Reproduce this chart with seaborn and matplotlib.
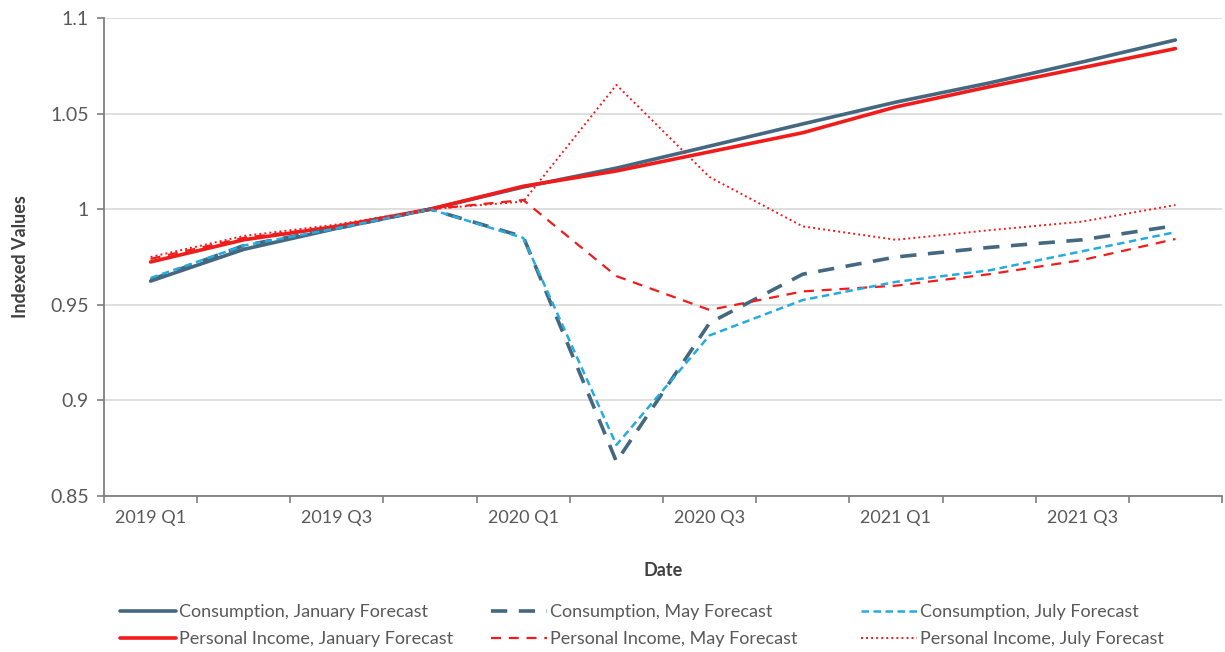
import matplotlib
matplotlib.use("Agg")
import matplotlib.pyplot as plt
import seaborn as sns
import pandas as pd
import numpy as np

quarters = ["2019 Q1", "2019 Q2", "2019 Q3", "2019 Q4",
            "2020 Q1", "2020 Q2", "2020 Q3", "2020 Q4",
            "2021 Q1", "2021 Q2", "2021 Q3", "2021 Q4"]

cons_jan = [0.9624, 0.979, 0.990, 1.000, 1.0116, 1.0215, 1.033, 1.0446, 1.056, 1.066, 1.077, 1.0885]
inc_jan = [0.9724, 0.984, 0.991, 1.000, 1.012, 1.020, 1.030, 1.040, 1.0535, 1.064, 1.074, 1.084]
cons_may = [0.963, 0.981, 0.990, 1.000, 0.9856, 0.868, 0.9405, 0.966, 0.975, 0.980, 0.984, 0.9914]
inc_may = [0.974, 0.985, 0.991, 1.000, 1.0048, 0.965, 0.9473, 0.957, 0.960, 0.966, 0.9734, 0.9844]
cons_jul = [0.964, 0.981, 0.990, 1.000, 0.985, 0.8767, 0.934, 0.9525, 0.962, 0.968, 0.978, 0.988]
inc_jul = [0.975, 0.986, 0.992, 1.000, 1.004, 1.065, 1.0168, 0.991, 0.984, 0.989, 0.9935, 1.0022]

sns.set_theme(style="white")
plt.rcParams["font.family"] = ["Lato", "DejaVu Sans"]

DARK = "#44687f"
RED = "#f21b1b"
BLUE = "#26abe0"

series = [
    ("Consumption, January Forecast", cons_jan, DARK, "-", 2.6),
    ("Personal Income, January Forecast", inc_jan, RED, "-", 2.6),
    ("Consumption, May Forecast", cons_may, DARK, (0, (4.5, 3.2)), 2.6),
    ("Personal Income, May Forecast", inc_may, RED, (0, (4.5, 3.5)), 1.6),
    ("Consumption, July Forecast", cons_jul, BLUE, (0, (3.0, 1.8)), 1.8),
    ("Personal Income, July Forecast", inc_jul, RED, (0, (1, 1.6)), 1.4),
]

fig = plt.figure(figsize=(12.25, 6.52), dpi=100)
ax = fig.add_axes([104 / 1225, 1 - 496 / 652, 1118 / 1225, 478 / 652])

x = np.arange(len(quarters))
for name, vals, color, ls, lw in series:
    df = pd.DataFrame({"Date": x, "Indexed Values": vals})
    sns.lineplot(data=df, x="Date", y="Indexed Values", ax=ax, color=color,
                 linestyle=ls, linewidth=lw, label=name, legend=False)

ax.set_xlim(-0.5, len(quarters) - 0.5)
ax.set_ylim(0.85, 1.1)
ax.set_yticks([0.85, 0.9, 0.95, 1.0, 1.05, 1.1])
ax.set_yticklabels(["0.85", "0.9", "0.95", "1", "1.05", "1.1"])
ax.set_xticks(x[::2])
ax.set_xticklabels(quarters[::2])
ax.set_xticks(np.arange(-0.5, len(quarters), 1.0), minor=True)

ax.yaxis.grid(True, color="#d9d9d9", linewidth=1.2)
ax.xaxis.grid(False)
ax.set_axisbelow(True)

for side in ["top", "right"]:
    ax.spines[side].set_visible(False)
for side in ["left", "bottom"]:
    ax.spines[side].set_color("#7f7f7f")
    ax.spines[side].set_linewidth(1.3)

ax.tick_params(axis="x", which="major", length=0, pad=10, labelsize=13, labelcolor="#595959")
ax.tick_params(axis="x", which="minor", bottom=True, length=5, width=1.2, color="#7f7f7f", direction="out")
ax.tick_params(axis="y", which="major", left=True, length=5, width=1.2, color="#7f7f7f",
               direction="out", labelsize=14, labelcolor="#595959", pad=6)

ax.set_xlabel("Date", fontsize=13, fontweight="bold", color="#404040", labelpad=26)
ax.set_ylabel("Indexed Values", fontsize=13, fontweight="bold", color="#404040")
ax.yaxis.set_label_coords(-0.067, 0.5)

# legend: three columns, each holding a Consumption / Personal Income pair
handles, labels = ax.get_legend_handles_labels()
col_x = [120, 491, 861]
for i, cx in enumerate(col_x):
    fig.legend(handles[2 * i:2 * i + 2], labels[2 * i:2 * i + 2], ncol=1,
               loc="lower left", bbox_to_anchor=(cx / 1225, 5 / 652),
               frameon=False, fontsize=13, handlelength=3.1, handletextpad=0.15,
               labelspacing=0.6, labelcolor="#595959", borderpad=0.0,
               borderaxespad=0.0)

fig.savefig("out.png", dpi=100, facecolor="white")
